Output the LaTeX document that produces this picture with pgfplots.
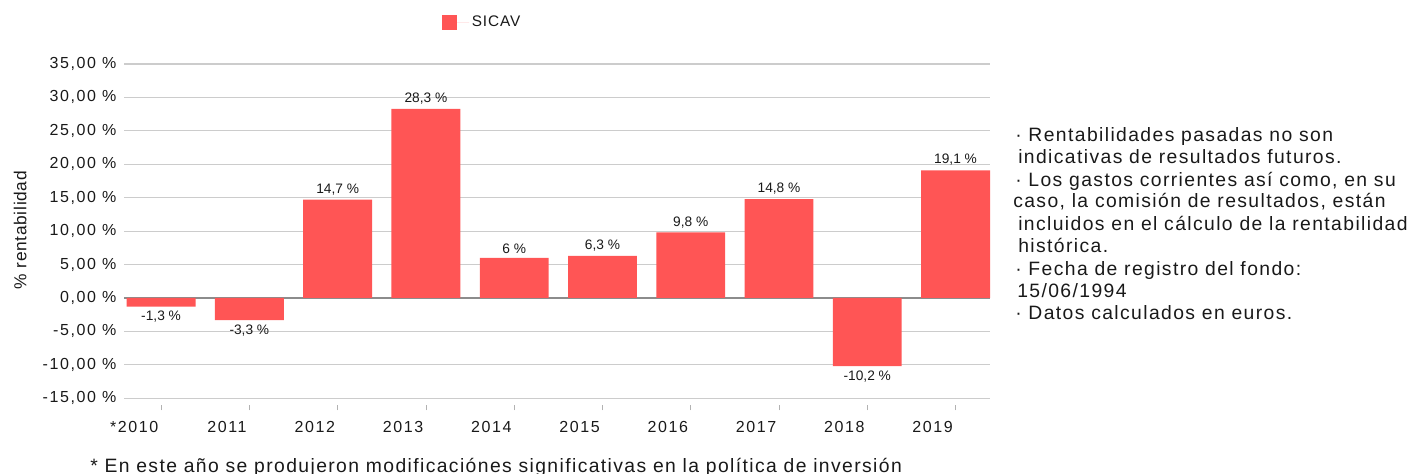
\documentclass[border=0pt]{standalone}
\usepackage{pgfplots}
\pgfplotsset{compat=1.18}
\usepackage{fontspec}
\setmainfont{Liberation Sans}
\newfontfamily\tickfont[LetterSpace=10]{Liberation Sans}
\newfontfamily\notefont[LetterSpace=7.2]{Liberation Sans}
\newfontfamily\labfont[LetterSpace=4]{Liberation Sans}
\newfontfamily\legfont[LetterSpace=6]{Liberation Sans}
\definecolor{barred}{RGB}{255,85,85}
\definecolor{gridgray}{RGB}{204,204,204}
\definecolor{zerogray}{RGB}{140,140,140}
\definecolor{txt}{RGB}{25,25,25}
\begin{document}
\begin{tikzpicture}
\useasboundingbox (0pt,0pt) rectangle (1059.75pt,-355.5pt);
\begin{axis}[
  at={(93pt,-298.7pt)}, anchor=south west,
  width=649.5pt, height=250.7pt, scale only axis,
  xmin=-0.42, xmax=9.39, ymin=-15, ymax=35,
  ybar, bar width=0.78,
  axis line style={draw=none},
  /pgf/number format/assume math mode=true,
  ytick={-15,-10,...,35},
  yticklabels={{-15,00 \%},{-10,00 \%},{-5,00 \%},{0,00 \%},{5,00 \%},{10,00 \%},{15,00 \%},{20,00 \%},{25,00 \%},{30,00 \%},{35,00 \%}},
  ymajorgrids, grid style={gridgray, line width=0.9pt},
  extra y ticks={0}, extra y tick labels={},
  extra y tick style={grid style={zerogray, line width=1pt}, ytick style={draw=none}},
  ytick style={draw=none},
  xtick={0,...,9},
  xticklabels={*2010,2011,2012,2013,2014,2015,2016,2017,2018,2019},
  xtick pos=bottom, ytick pos=left,
  tick align=inside, major tick length=3.75pt,
  xtick style={draw=gray!60, line width=0.6pt, yshift=-9pt},
  xticklabel style={anchor=north east, xshift=1.5pt, yshift=-14pt, font=\tickfont\fontsize{12}{14}\selectfont, text=txt},
  yticklabel style={font=\tickfont\fontsize{12}{14}\selectfont, text=txt, xshift=-2.2pt},
  ylabel={\% rentabilidad},
  ylabel style={at={(axis description cs:-0.120,0.503)}, anchor=center, font=\labfont\fontsize{13}{15}\selectfont, text=txt},
  nodes near coords={\pgfmathprintnumber[use comma]{\pgfplotspointmeta} \%},
  every node near coord/.append style={font=\fontsize{10.3}{12}\selectfont, text=txt},
  legend style={at={(axis description cs:0.367,1.124)}, anchor=west, draw=none, inner sep=0pt, outer sep=0pt, font=\legfont\fontsize{11.5}{13}\selectfont, text=txt},
  legend image code/.code={\fill[barred] (0pt,-5.6pt) rectangle (11.25pt,5.6pt); \path (11.25pt,0pt) -- (20.5pt,0pt);},
]
\addplot[fill=barred, draw=none] coordinates {
  (0,-1.3) (1,-3.3) (2,14.7) (3,28.3) (4,6) (5,6.3) (6,9.8) (7,14.8) (8,-10.2) (9,19.1)
};
\addlegendentry{SICAV}
\end{axis}
\begin{scope}[x=0.75pt,y=-0.75pt, every node/.style={anchor=base west, inner sep=0pt, text=txt, font=\notefont\fontsize{14.5}{16}\selectfont}]
\node at (1015,142) {· Rentabilidades pasadas no son};
\node at (1018,164) {indicativas de resultados futuros.};
\node at (1015,186) {· Los gastos corrientes así como, en su};
\node at (1013,208) {caso, la comisión de resultados, están};
\node at (1018,230) {incluidos en el cálculo de la rentabilidad};
\node at (1018,252) {histórica.};
\node at (1015,275) {· Fecha de registro del fondo:};
\node at (1017,297) {15/06/1994};
\node at (1015,319) {· Datos calculados en euros.};
\node at (90,472) {* En este año se produjeron modificaciónes significativas en la política de inversión};
\end{scope}
\end{tikzpicture}
\end{document}
